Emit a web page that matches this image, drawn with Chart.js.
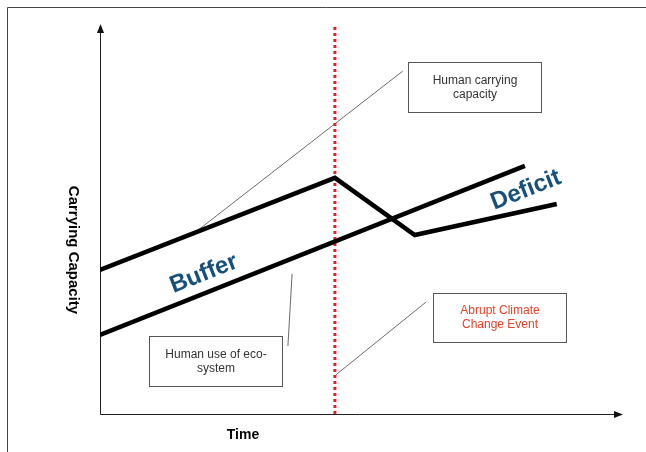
<!DOCTYPE html>
<html>
<head>
<meta charset="utf-8">
<script src="https://cdn.jsdelivr.net/npm/chart.js@4/dist/chart.umd.min.js"></script>
<style>
  body { margin: 0; background: #fff; }
  #wrap { width: 646px; height: 452px; }
</style>
</head>
<body>
<div id="wrap"><canvas id="chart" width="646" height="452"></canvas></div>
<script>
// data (time 0-100, capacity 0-100)
var capacityTime  = [0, 45, 60.3, 87.5];
var capacityValue = [37.5, 61.5, 46.6, 54.7];
var useTime  = [0, 81.4];
var useValue = [20.6, 64.6];
var eventTime = 45;
var eventRange = [0, 101.3];

function pts(xs, ys) {
    return xs.map(function(x, i) { return {x: x, y: ys[i]}; });
}

// callout boxes (data units)
var boxes = [
    {x1: 59.0, x2: 84.5, y1: 91.7, y2: 78.6, lines: ["Human carrying", "capacity"], color: '#333',
     lead: [58.0, 89.3, 18.8, 47.9]},
    {x1: 63.8, x2: 89.3, y1: 31.5, y2: 18.75, lines: ["Abrupt Climate", "Change Event"], color: '#e0442c',
     lead: [62.5, 29.2, 45.2, 10.2]},
    {x1: 9.4, x2: 34.9, y1: 20.3, y2: 7.3, lines: ["Human use of eco-", "system"], color: '#333',
     lead: [36.8, 36.5, 36.0, 17.7]}
];

var diagram = {
    id: 'diagram',
    beforeDraw: function(chart) {
        var ctx = chart.ctx;
        ctx.save();
        ctx.fillStyle = '#fff';
        ctx.fillRect(0, 0, chart.width, chart.height);
        ctx.strokeStyle = '#444';
        ctx.lineWidth = 1;
        ctx.beginPath();
        ctx.moveTo(7.5, chart.height);
        ctx.lineTo(7.5, 7.5);
        ctx.lineTo(chart.width, 7.5);
        ctx.stroke();

        // axes with arrows
        var a = chart.chartArea;
        ctx.strokeStyle = '#222';
        ctx.fillStyle = '#111';
        ctx.beginPath();
        ctx.moveTo(a.left + 0.5, a.top);
        ctx.lineTo(a.left + 0.5, a.bottom + 0.5);
        ctx.lineTo(a.right - 4, a.bottom + 0.5);
        ctx.stroke();
        ctx.beginPath();
        ctx.moveTo(a.left + 0.5, a.top - 6);
        ctx.lineTo(a.left - 3, a.top + 3);
        ctx.lineTo(a.left + 4, a.top + 3);
        ctx.closePath();
        ctx.fill();
        ctx.beginPath();
        ctx.moveTo(a.right + 1, a.bottom + 0.5);
        ctx.lineTo(a.right - 8, a.bottom - 3);
        ctx.lineTo(a.right - 8, a.bottom + 4);
        ctx.closePath();
        ctx.fill();

        // axis titles
        ctx.fillStyle = '#000';
        ctx.textAlign = 'center';
        ctx.textBaseline = 'middle';
        ctx.font = 'bold 14px "Liberation Sans", Arial, sans-serif';
        ctx.fillText('Time', 243, 435);
        ctx.save();
        ctx.translate(73, 250);
        ctx.rotate(Math.PI / 2);
        ctx.font = 'bold 15px "Liberation Sans", Arial, sans-serif';
        ctx.fillText('Carrying Capacity', 0, 0);
        ctx.restore();

        // leader lines
        var xs = chart.scales.x, ys = chart.scales.y;
        boxes.forEach(function(b) {
            ctx.strokeStyle = '#444';
            ctx.lineWidth = 0.8;
            ctx.beginPath();
            ctx.moveTo(xs.getPixelForValue(b.lead[0]), ys.getPixelForValue(b.lead[1]));
            ctx.lineTo(xs.getPixelForValue(b.lead[2]), ys.getPixelForValue(b.lead[3]));
            ctx.stroke();
        });
        ctx.restore();
    },
    afterDatasetsDraw: function(chart) {
        var ctx = chart.ctx;
        var xs = chart.scales.x, ys = chart.scales.y;
        ctx.save();
        boxes.forEach(function(b) {
            var l = Math.round(xs.getPixelForValue(b.x1)) + 0.5;
            var r = Math.round(xs.getPixelForValue(b.x2)) + 0.5;
            var t = Math.round(ys.getPixelForValue(b.y1)) + 0.5;
            var bt = Math.round(ys.getPixelForValue(b.y2)) + 0.5;
            ctx.fillStyle = '#fff';
            ctx.fillRect(l, t, r - l, bt - t);
            ctx.strokeStyle = '#555';
            ctx.lineWidth = 1;
            ctx.strokeRect(l, t, r - l, bt - t);
            ctx.fillStyle = b.color;
            ctx.font = '12px "Liberation Sans", Arial, sans-serif';
            ctx.textAlign = 'center';
            ctx.textBaseline = 'middle';
            var cx = (l + r) / 2, cy = (t + bt) / 2;
            ctx.fillText(b.lines[0], cx, cy - 7);
            ctx.fillText(b.lines[1], cx, cy + 7);
        });

        // Buffer / Deficit
        var ang = Math.atan2(ys.getPixelForValue(useValue[1]) - ys.getPixelForValue(useValue[0]),
                             xs.getPixelForValue(useTime[1]) - xs.getPixelForValue(useTime[0]));
        ctx.fillStyle = '#17507a';
        ctx.font = 'bold 24px "Liberation Sans", Arial, sans-serif';
        [['Buffer', 19.9, 36.5], ['Deficit', 81.6, 58.3]].forEach(function(lb) {
            ctx.save();
            ctx.translate(xs.getPixelForValue(lb[1]), ys.getPixelForValue(lb[2]));
            ctx.rotate(ang);
            ctx.fillText(lb[0], 0, 0);
            ctx.restore();
        });
        ctx.restore();
    }
};

var c = document.getElementById("chart");
var ctx = c.getContext("2d");
var chart = new Chart(ctx, {
    type: 'line',
    data: {
        datasets: [{
            label: 'Human carrying capacity',
            data: pts(capacityTime, capacityValue),
            borderColor: '#000',
            borderWidth: 4.5,
            borderJoinStyle: 'miter',
            pointRadius: 0,
            tension: 0
        }, {
            label: 'Human use of eco-system',
            data: pts(useTime, useValue),
            borderColor: '#000',
            borderWidth: 4.5,
            pointRadius: 0,
            tension: 0
        }, {
            label: 'Abrupt Climate Change Event',
            data: [{x: eventTime, y: eventRange[0]}, {x: eventTime, y: eventRange[1]}],
            borderColor: '#ee1c24',
            borderWidth: 3,
            borderDash: [3, 3],
            pointRadius: 0,
            clip: false
        }]
    },
    options: {
        responsive: false,
        animation: false,
        layout: { padding: { left: 100, right: 24, top: 30, bottom: 38 } },
        scales: {
            x: { type: 'linear', min: 0, max: 100, display: false },
            y: { min: 0, max: 100, display: false }
        },
        plugins: {
            legend: { display: false },
            tooltip: { enabled: false }
        }
    },
    plugins: [diagram]
});
</script>
</body>
</html>
